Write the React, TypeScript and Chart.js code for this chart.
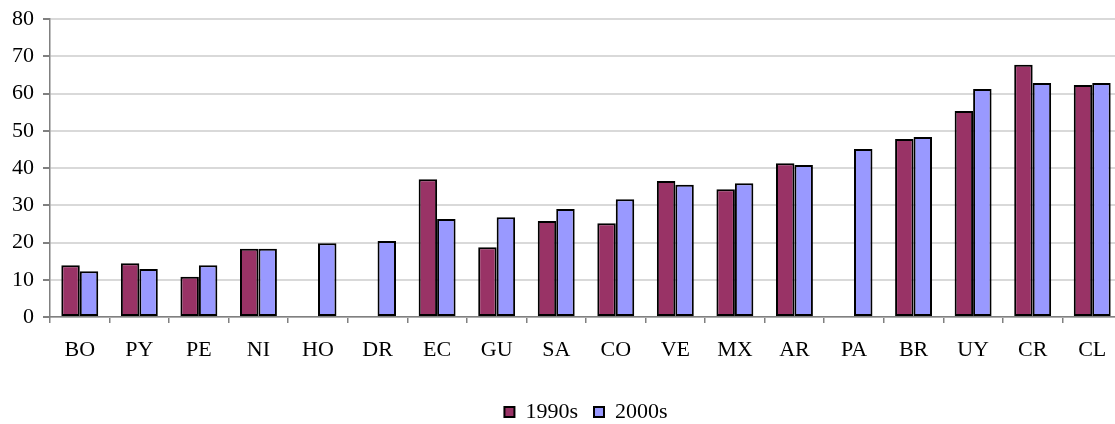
import React, { useEffect, useRef } from "react";
import { Chart, registerables } from "chart.js";

Chart.register(...registerables);

const categories = ["BO", "PY", "PE", "NI", "HO", "DR", "EC", "GU", "SA", "CO", "VE", "MX", "AR", "PA", "BR", "UY", "CR", "CL"];
const values1990s: (number | null)[] = [13.9, 14.4, 10.8, 18.3, null, null, 37.0, 18.7, 25.8, 25.2, 36.5, 34.3, 41.3, null, 47.8, 55.3, 67.7, 62.3];
const values2000s: (number | null)[] = [12.3, 12.9, 13.9, 18.3, 19.8, 20.4, 26.3, 26.8, 29.0, 31.6, 35.5, 35.9, 40.8, 45.1, 48.3, 61.2, 62.8, 62.8];
const seriesNames = ["1990s", "2000s"];
const yTicks = [0, 10, 20, 30, 40, 50, 60, 70, 80];

const FONT = "'Liberation Serif', 'Times New Roman', serif";

export default function App() {
  const ref = useRef<HTMLCanvasElement | null>(null);

  useEffect(() => {
    document.body.style.margin = "0";
    document.body.style.overflow = "hidden";
    const canvas = ref.current;
    if (!canvas) return;
    const chart = new Chart(canvas, {
      type: "bar",
      data: {
        labels: categories,
        datasets: [
          {
            label: seriesNames[0],
            data: values1990s,
            backgroundColor: "#993366",
            borderColor: "#000000",
            borderWidth: 2,
            borderSkipped: false,
            categoryPercentage: 0.62,
            barPercentage: 1.0,
          },
          {
            label: seriesNames[1],
            data: values2000s,
            backgroundColor: "#9999FF",
            borderColor: "#000000",
            borderWidth: 2,
            borderSkipped: false,
            categoryPercentage: 0.62,
            barPercentage: 1.0,
          },
        ],
      },
      options: {
        responsive: false,
        animation: false,
        devicePixelRatio: 1,
        layout: { padding: { top: 19, bottom: -9, left: 0, right: 0 } },
        plugins: {
          tooltip: { enabled: false },
          legend: {
            position: "bottom",
            fullSize: false,
            align: "center",
            labels: {
              boxWidth: 10,
              boxHeight: 10,
              padding: 16,
              color: "#000000",
              font: { family: FONT, size: 22, lineHeight: 1 },
            },
          },
        },
        scales: {
          x: {
            grid: {
              display: true,
              drawOnChartArea: false,
              drawTicks: true,
              tickLength: 6,
              tickColor: "#808080",
              offset: true,
              lineWidth: 1.5,
            },
            border: { display: true, color: "#808080", width: 1.5 },
            ticks: {
              color: "#000000",
              font: { family: FONT, size: 22 },
              padding: 14,
              maxRotation: 0,
              autoSkip: false,
            },
            afterFit: (scale: any) => {
              scale.height = 68;
            },
          },
          y: {
            min: 0,
            max: 80,
            afterBuildTicks: (scale: any) => {
              scale.ticks = yTicks.map((v) => ({ value: v }));
            },
            grid: {
              color: "#d9d9d9",
              lineWidth: 2,
              drawTicks: true,
              tickLength: 7,
              tickColor: "#808080",
            },
            border: { display: true, color: "#808080", width: 1.5 },
            ticks: {
              color: "#000000",
              font: { family: FONT, size: 22, lineHeight: 0.7 },
              padding: 9,
            },
            afterFit: (scale: any) => {
              scale.width = 50;
            },
          },
        },
      },
    });
    return () => chart.destroy();
  }, []);

  return (
    <div style={{ width: 1115, height: 424, overflow: "hidden", background: "#ffffff" }}>
      <canvas ref={ref} width={1122} height={424} style={{ display: "block" }} />
    </div>
  );
}
